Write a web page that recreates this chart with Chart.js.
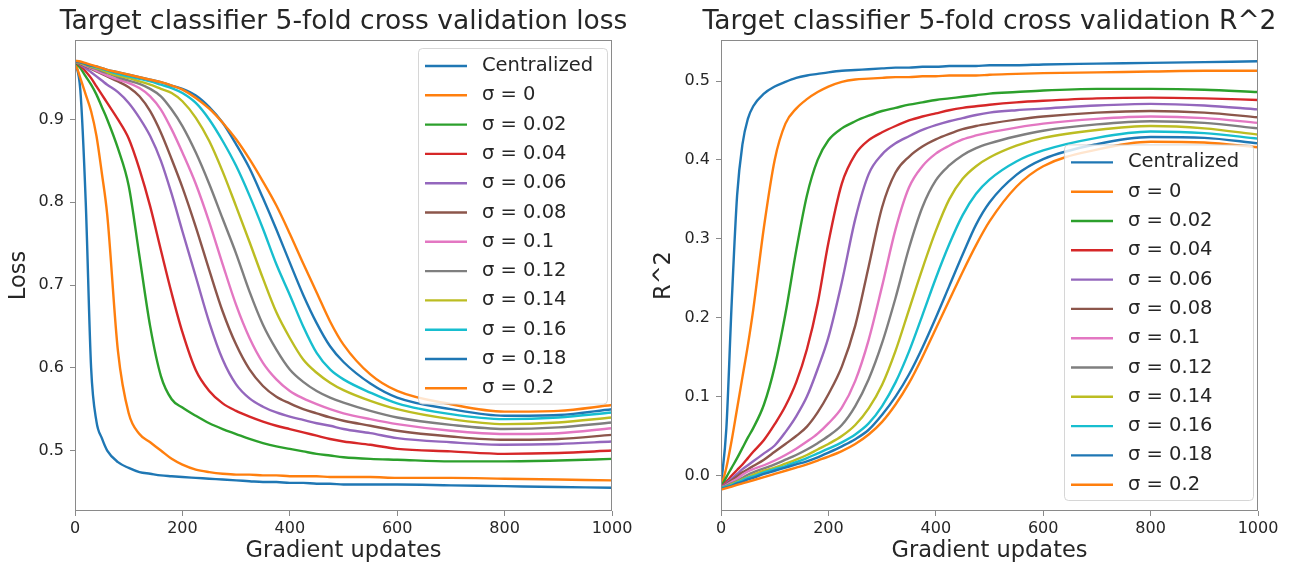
<!DOCTYPE html>
<html>
<head>
<meta charset="utf-8">
<script src="https://cdn.jsdelivr.net/npm/chart.js@4.4.0/dist/chart.umd.min.js"></script>
<style>
  body { margin: 0; background: #fff; }
  .panel { position: absolute; top: 0; }
</style>
</head>
<body>
<div class="panel" style="left:0"><canvas id="lossChart" width="645" height="569"></canvas></div>
<div class="panel" style="left:645px"><canvas id="r2Chart" width="645" height="569"></canvas></div>
<script>
// Gradient update steps (shared x values)
const steps = [0, 10, 20, 30, 40, 50, 60, 80, 100, 120, 140, 160, 180, 200, 225, 250, 275, 300,
  325, 350, 375, 400, 425, 450, 475, 500, 550, 600, 700, 800, 900, 1000];

const seriesLabels = ['Centralized', 'σ = 0', 'σ = 0.02', 'σ = 0.04', 'σ = 0.06', 'σ = 0.08',
  'σ = 0.1', 'σ = 0.12', 'σ = 0.14', 'σ = 0.16', 'σ = 0.18', 'σ = 0.2'];

const xTicks = [0, 200, 400, 600, 800, 1000];
const lossTicks = [0.5, 0.6, 0.7, 0.8, 0.9];
const r2Ticks = [0.0, 0.1, 0.2, 0.3, 0.4, 0.5];
const lossRange = [0.427, 0.996];
const r2Range = [-0.045, 0.552];

// Loss curves
const lossCentral = [0.970, 0.935, 0.800, 0.600, 0.535, 0.515, 0.500, 0.486, 0.479, 0.474, 0.472, 0.470, 0.469, 0.468, 0.467, 0.466, 0.465, 0.464, 0.463, 0.462, 0.462, 0.461, 0.461, 0.460, 0.460, 0.459, 0.459, 0.459, 0.458, 0.457, 0.456, 0.455];
const lossS000 = [0.970, 0.950, 0.930, 0.910, 0.880, 0.835, 0.785, 0.620, 0.545, 0.520, 0.510, 0.500, 0.490, 0.483, 0.477, 0.474, 0.472, 0.471, 0.471, 0.470, 0.470, 0.469, 0.469, 0.469, 0.468, 0.468, 0.468, 0.467, 0.467, 0.466, 0.465, 0.464];
const lossS002 = [0.970, 0.962, 0.952, 0.942, 0.930, 0.915, 0.900, 0.865, 0.820, 0.735, 0.650, 0.590, 0.562, 0.552, 0.542, 0.533, 0.526, 0.520, 0.514, 0.509, 0.505, 0.502, 0.499, 0.496, 0.494, 0.492, 0.490, 0.489, 0.487, 0.487, 0.488, 0.490];
const lossS004 = [0.970, 0.965, 0.958, 0.950, 0.940, 0.930, 0.920, 0.900, 0.877, 0.840, 0.795, 0.742, 0.690, 0.643, 0.597, 0.572, 0.557, 0.548, 0.541, 0.535, 0.530, 0.526, 0.522, 0.518, 0.514, 0.511, 0.507, 0.502, 0.499, 0.496, 0.497, 0.500];
const lossS006 = [0.970, 0.966, 0.962, 0.957, 0.952, 0.947, 0.942, 0.933, 0.920, 0.902, 0.880, 0.850, 0.810, 0.765, 0.710, 0.655, 0.610, 0.580, 0.563, 0.553, 0.546, 0.541, 0.537, 0.533, 0.530, 0.526, 0.521, 0.515, 0.510, 0.507, 0.508, 0.511];
const lossS008 = [0.970, 0.967, 0.964, 0.961, 0.958, 0.955, 0.952, 0.946, 0.939, 0.928, 0.910, 0.884, 0.852, 0.818, 0.770, 0.718, 0.668, 0.628, 0.598, 0.578, 0.565, 0.557, 0.550, 0.545, 0.540, 0.536, 0.530, 0.524, 0.517, 0.513, 0.514, 0.519];
const lossS010 = [0.970, 0.968, 0.965, 0.962, 0.959, 0.956, 0.953, 0.948, 0.944, 0.938, 0.928, 0.912, 0.888, 0.860, 0.822, 0.776, 0.725, 0.676, 0.636, 0.606, 0.586, 0.572, 0.563, 0.556, 0.550, 0.545, 0.538, 0.532, 0.524, 0.520, 0.521, 0.527];
const lossS012 = [0.970, 0.968, 0.966, 0.963, 0.961, 0.958, 0.956, 0.951, 0.947, 0.943, 0.937, 0.928, 0.912, 0.892, 0.860, 0.822, 0.780, 0.738, 0.692, 0.652, 0.622, 0.598, 0.583, 0.572, 0.564, 0.558, 0.548, 0.540, 0.531, 0.526, 0.528, 0.534];
const lossS014 = [0.970, 0.968, 0.966, 0.964, 0.962, 0.960, 0.957, 0.953, 0.950, 0.946, 0.942, 0.937, 0.932, 0.922, 0.902, 0.874, 0.837, 0.795, 0.752, 0.708, 0.667, 0.636, 0.610, 0.594, 0.582, 0.573, 0.560, 0.550, 0.538, 0.532, 0.534, 0.540];
const lossS016 = [0.970, 0.969, 0.967, 0.965, 0.963, 0.961, 0.959, 0.955, 0.952, 0.949, 0.946, 0.942, 0.938, 0.932, 0.920, 0.900, 0.874, 0.844, 0.808, 0.768, 0.725, 0.688, 0.650, 0.618, 0.598, 0.586, 0.570, 0.557, 0.544, 0.538, 0.540, 0.546];
const lossS018 = [0.970, 0.969, 0.967, 0.965, 0.964, 0.962, 0.960, 0.957, 0.954, 0.951, 0.948, 0.945, 0.941, 0.937, 0.929, 0.915, 0.896, 0.870, 0.841, 0.805, 0.767, 0.727, 0.688, 0.654, 0.626, 0.607, 0.581, 0.564, 0.550, 0.542, 0.543, 0.550];
const lossS020 = [0.971, 0.970, 0.968, 0.966, 0.964, 0.962, 0.960, 0.957, 0.954, 0.951, 0.948, 0.945, 0.941, 0.936, 0.926, 0.913, 0.896, 0.876, 0.852, 0.825, 0.796, 0.762, 0.726, 0.691, 0.656, 0.628, 0.592, 0.572, 0.556, 0.547, 0.548, 0.555];

// R^2 curves
const r2Central = [-0.013, 0.060, 0.220, 0.355, 0.420, 0.452, 0.468, 0.484, 0.493, 0.499, 0.504, 0.507, 0.509, 0.511, 0.513, 0.514, 0.515, 0.516, 0.517, 0.517, 0.518, 0.518, 0.519, 0.519, 0.519, 0.520, 0.520, 0.521, 0.522, 0.523, 0.524, 0.525];
const r2S000 = [-0.015, 0.010, 0.045, 0.085, 0.125, 0.165, 0.210, 0.315, 0.400, 0.446, 0.465, 0.477, 0.486, 0.493, 0.499, 0.502, 0.503, 0.504, 0.505, 0.505, 0.506, 0.506, 0.507, 0.507, 0.507, 0.508, 0.509, 0.510, 0.511, 0.512, 0.513, 0.513];
const r2S002 = [-0.015, -0.002, 0.010, 0.022, 0.035, 0.048, 0.060, 0.090, 0.138, 0.205, 0.285, 0.355, 0.400, 0.425, 0.440, 0.449, 0.456, 0.462, 0.466, 0.470, 0.473, 0.476, 0.478, 0.480, 0.482, 0.484, 0.486, 0.488, 0.490, 0.490, 0.489, 0.486];
const r2S004 = [-0.015, -0.008, 0.000, 0.007, 0.014, 0.022, 0.030, 0.045, 0.065, 0.088, 0.118, 0.160, 0.218, 0.295, 0.370, 0.407, 0.425, 0.435, 0.443, 0.450, 0.455, 0.459, 0.463, 0.466, 0.468, 0.470, 0.473, 0.475, 0.478, 0.479, 0.478, 0.476];
const r2S006 = [-0.015, -0.010, -0.004, 0.002, 0.008, 0.013, 0.018, 0.028, 0.038, 0.055, 0.075, 0.100, 0.135, 0.175, 0.245, 0.325, 0.382, 0.407, 0.421, 0.430, 0.438, 0.444, 0.449, 0.453, 0.457, 0.460, 0.463, 0.465, 0.469, 0.471, 0.469, 0.464];
const r2S008 = [-0.015, -0.011, -0.006, -0.001, 0.004, 0.008, 0.012, 0.020, 0.030, 0.040, 0.050, 0.062, 0.080, 0.103, 0.138, 0.190, 0.265, 0.340, 0.384, 0.404, 0.417, 0.426, 0.433, 0.439, 0.443, 0.446, 0.451, 0.455, 0.460, 0.462, 0.460, 0.454];
const r2S010 = [-0.015, -0.012, -0.008, -0.004, 0.001, 0.005, 0.008, 0.013, 0.019, 0.026, 0.034, 0.043, 0.053, 0.066, 0.086, 0.120, 0.172, 0.240, 0.312, 0.365, 0.392, 0.408, 0.418, 0.426, 0.431, 0.435, 0.441, 0.446, 0.452, 0.455, 0.453, 0.447];
const r2S012 = [-0.015, -0.013, -0.010, -0.007, -0.003, 0.001, 0.004, 0.009, 0.014, 0.020, 0.026, 0.033, 0.041, 0.050, 0.064, 0.088, 0.122, 0.168, 0.225, 0.288, 0.340, 0.374, 0.393, 0.406, 0.415, 0.421, 0.430, 0.437, 0.445, 0.449, 0.447, 0.440];
const r2S014 = [-0.016, -0.014, -0.011, -0.008, -0.005, -0.002, 0.001, 0.006, 0.010, 0.015, 0.020, 0.026, 0.033, 0.040, 0.050, 0.064, 0.085, 0.115, 0.158, 0.210, 0.262, 0.310, 0.350, 0.376, 0.392, 0.403, 0.418, 0.428, 0.438, 0.443, 0.440, 0.432];
const r2S016 = [-0.016, -0.014, -0.012, -0.009, -0.006, -0.003, -0.001, 0.004, 0.008, 0.012, 0.017, 0.022, 0.028, 0.034, 0.042, 0.052, 0.066, 0.088, 0.118, 0.157, 0.203, 0.250, 0.293, 0.330, 0.357, 0.375, 0.398, 0.412, 0.428, 0.436, 0.434, 0.427];
const r2S018 = [-0.017, -0.015, -0.013, -0.010, -0.008, -0.005, -0.003, 0.002, 0.006, 0.010, 0.014, 0.018, 0.023, 0.029, 0.037, 0.046, 0.058, 0.077, 0.100, 0.128, 0.162, 0.200, 0.240, 0.280, 0.318, 0.346, 0.381, 0.401, 0.420, 0.429, 0.428, 0.421];
const r2S020 = [-0.018, -0.016, -0.014, -0.012, -0.010, -0.008, -0.006, -0.002, 0.002, 0.006, 0.010, 0.014, 0.019, 0.024, 0.031, 0.040, 0.052, 0.068, 0.090, 0.117, 0.150, 0.186, 0.222, 0.258, 0.292, 0.322, 0.366, 0.392, 0.413, 0.423, 0.422, 0.416];

const lossSeries = [lossCentral, lossS000, lossS002, lossS004, lossS006, lossS008,
  lossS010, lossS012, lossS014, lossS016, lossS018, lossS020];
const r2Series = [r2Central, r2S000, r2S002, r2S004, r2S006, r2S008,
  r2S010, r2S012, r2S014, r2S016, r2S018, r2S020];

// matplotlib tab10 cycle
const tab10 = ['#1f77b4', '#ff7f0e', '#2ca02c', '#d62728', '#9467bd', '#8c564b',
  '#e377c2', '#7f7f7f', '#bcbd22', '#17becf'];

const FONT = '"DejaVu Sans", "Liberation Sans", sans-serif';
const TEXT = '#262626';
const AXIS = '#8a8a8a';

// box around the plot area, like matplotlib spines
const framePlugin = {
  id: 'frame',
  afterDatasetsDraw(chart) {
    const { ctx, chartArea: a } = chart;
    ctx.save();
    ctx.strokeStyle = AXIS;
    ctx.lineWidth = 1;
    ctx.strokeRect(a.left + 0.5, a.top + 0.5, a.width - 1, a.height - 1);
    ctx.restore();
  }
};

// title centred over the plot area (not squeezed to its width)
const axesTitle = {
  id: 'axesTitle',
  afterDraw(chart, args, opts) {
    const { ctx, chartArea: a } = chart;
    ctx.save();
    ctx.font = '26.5px ' + FONT;
    ctx.fillStyle = TEXT;
    ctx.textAlign = 'center';
    ctx.textBaseline = 'alphabetic';
    ctx.fillText(opts.text, (a.left + a.right) / 2, 29);
    ctx.restore();
  }
};

// legend with frame drawn inside the plot area
const boxLegend = {
  id: 'boxLegend',
  afterDraw(chart, args, opts) {
    const { ctx, chartArea: a } = chart;
    const sets = chart.data.datasets;
    const rowH = 29.3;
    const w = 189;
    const h = sets.length * rowH + 4;
    const x0 = a.right - 5 - w;
    const y0 = opts.corner === 'lower' ? a.bottom - 11 - h : a.top + 8;
    ctx.save();
    ctx.beginPath();
    ctx.roundRect(x0 + 0.5, y0 + 0.5, w, h, 4);
    ctx.fillStyle = 'rgba(255,255,255,0.8)';
    ctx.fill();
    ctx.strokeStyle = 'rgba(204,204,204,0.8)';
    ctx.lineWidth = 1;
    ctx.stroke();
    ctx.font = '19.5px ' + FONT;
    ctx.textBaseline = 'middle';
    sets.forEach((ds, i) => {
      const y = y0 + 18 + i * rowH;
      ctx.strokeStyle = ds.borderColor;
      ctx.lineWidth = 2.4;
      ctx.beginPath();
      ctx.moveTo(x0 + 7, y);
      ctx.lineTo(x0 + 49, y);
      ctx.stroke();
      ctx.fillStyle = TEXT;
      ctx.fillText(ds.label, x0 + 64, y);
    });
    ctx.restore();
  }
};

function buildDatasets(series) {
  return series.map((vals, i) => ({
    label: seriesLabels[i],
    data: steps.map((x, j) => ({ x: x, y: vals[j] })),
    borderColor: tab10[i % tab10.length],
    backgroundColor: tab10[i % tab10.length],
    borderWidth: 2.4,
    pointRadius: 0,
    cubicInterpolationMode: 'monotone',
    fill: false,
    order: series.length - i
  }));
}

function makeChart(canvasId, opts) {
  return new Chart(document.getElementById(canvasId), {
    type: 'line',
    data: { datasets: buildDatasets(opts.series) },
    options: {
      responsive: false,
      animation: false,
      layout: { padding: { left: 0, right: opts.rightPad, top: 40, bottom: 0 } },
      plugins: {
        legend: { display: false },
        tooltip: { enabled: false },
        title: { display: false },
        axesTitle: { text: opts.title },
        boxLegend: { corner: opts.legendCorner }
      },
      scales: {
        x: {
          type: 'linear',
          min: 0,
          max: 1000,
          afterBuildTicks: (s) => { s.ticks = xTicks.map(v => ({ value: v })); },
          afterFit: (s) => { s.height = 58; },
          grid: { drawOnChartArea: false, drawTicks: true, tickLength: 5, color: AXIS },
          border: { display: false },
          ticks: {
            color: TEXT,
            font: { family: FONT, size: 16 },
            padding: 3,
            maxRotation: 0,
            callback: (v) => String(v)
          },
          title: {
            display: true,
            text: 'Gradient updates',
            color: TEXT,
            font: { family: FONT, size: 22.5 },
            padding: { top: 0, bottom: 4.5 }
          }
        },
        y: {
          type: 'linear',
          min: opts.range[0],
          max: opts.range[1],
          afterBuildTicks: (s) => { s.ticks = opts.ticks.map(v => ({ value: v })); },
          afterFit: (s) => { s.width = opts.yWidth; },
          grid: { drawOnChartArea: false, drawTicks: true, tickLength: 5, color: AXIS },
          border: { display: false },
          ticks: {
            color: TEXT,
            font: { family: FONT, size: 16 },
            padding: 6,
            callback: (v) => Number(v).toFixed(1)
          },
          title: {
            display: true,
            text: opts.yLabel,
            color: TEXT,
            font: { family: FONT, size: 22.5 },
            padding: { top: 6, bottom: 0 }
          }
        }
      }
    },
    plugins: [framePlugin, axesTitle, boxLegend]
  });
}

makeChart('lossChart', {
  series: lossSeries,
  title: 'Target classifier 5-fold cross validation loss',
  yLabel: 'Loss',
  range: lossRange,
  ticks: lossTicks,
  yWidth: 75,
  rightPad: 33,
  legendCorner: 'upper'
});

makeChart('r2Chart', {
  series: r2Series,
  title: 'Target classifier 5-fold cross validation R^2',
  yLabel: 'R^2',
  range: r2Range,
  ticks: r2Ticks,
  yWidth: 76,
  rightPad: 32,
  legendCorner: 'lower'
});
</script>
</body>
</html>
